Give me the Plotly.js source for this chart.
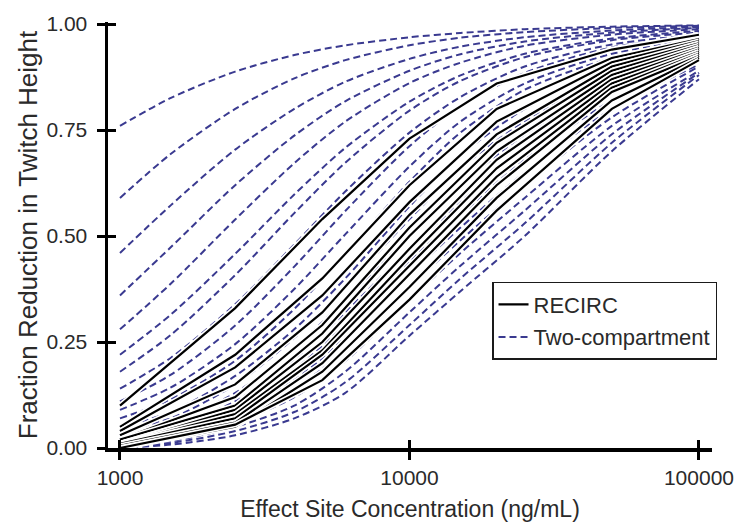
<!DOCTYPE html>
<html>
<head>
<meta charset="utf-8">
<script src="https://cdn.plot.ly/plotly-3.0.1.min.js"></script>
<style>html,body{margin:0;padding:0;background:#fff;}#chart{width:740px;height:526px;}</style>
</head>
<body>
<div id="chart"></div>
<script>
// Concentrations (ng/mL)
const concRecirc = [1000, 2500, 5000, 10000, 20000, 50000, 100000];
const concTwoComp = [1000, 1500, 2500, 4000, 6000, 10000, 15000, 25000, 50000, 100000];

// RECIRC model curves (fraction reduction in twitch height)
const recirc01 = [0.10, 0.33, 0.54, 0.73, 0.86, 0.94, 0.975];
const recirc02 = [0.05, 0.22, 0.40, 0.62, 0.80, 0.92, 0.965];
const recirc03 = [0.04, 0.19, 0.36, 0.58, 0.77, 0.91, 0.96];
const recirc04 = [0.03, 0.15, 0.32, 0.55, 0.74, 0.90, 0.955];
const recirc05 = [0.02, 0.12, 0.29, 0.52, 0.72, 0.89, 0.95];
const recirc06 = [0.02, 0.10, 0.27, 0.50, 0.70, 0.88, 0.945];
const recirc07 = [0.01, 0.09, 0.25, 0.47, 0.68, 0.87, 0.94];
const recirc08 = [0.01, 0.08, 0.23, 0.45, 0.66, 0.86, 0.935];
const recirc09 = [0.01, 0.07, 0.22, 0.43, 0.64, 0.85, 0.93];
const recirc10 = [0.005, 0.06, 0.20, 0.41, 0.62, 0.84, 0.925];
const recirc11 = [0.0, 0.05, 0.18, 0.38, 0.59, 0.82, 0.92];
const recirc12 = [0.0, 0.055, 0.16, 0.35, 0.56, 0.80, 0.915];

// Two-compartment model curves
const twoComp01 = [0.76, 0.826, 0.888, 0.927, 0.95, 0.969, 0.979, 0.988, 0.994, 0.997];
const twoComp02 = [0.59, 0.694, 0.80, 0.872, 0.915, 0.95, 0.968, 0.981, 0.991, 0.996];
const twoComp03 = [0.46, 0.573, 0.704, 0.80, 0.864, 0.918, 0.947, 0.969, 0.985, 0.993];
const twoComp04 = [0.36, 0.474, 0.62, 0.737, 0.818, 0.89, 0.929, 0.959, 0.98, 0.991];
const twoComp05 = [0.28, 0.388, 0.539, 0.672, 0.77, 0.861, 0.909, 0.949, 0.975, 0.988];
const twoComp06 = [0.22, 0.315, 0.458, 0.598, 0.708, 0.817, 0.879, 0.93, 0.966, 0.984];
const twoComp07 = [0.18, 0.267, 0.408, 0.554, 0.673, 0.796, 0.866, 0.922, 0.962, 0.98];
const twoComp08 = [0.14, 0.213, 0.339, 0.48, 0.605, 0.744, 0.828, 0.90, 0.952, 0.975];
const twoComp09 = [0.11, 0.173, 0.289, 0.428, 0.559, 0.712, 0.807, 0.885, 0.945, 0.97];
const twoComp10 = [0.09, 0.143, 0.245, 0.375, 0.504, 0.664, 0.77, 0.86, 0.93, 0.965];
const twoComp11 = [0.07, 0.115, 0.206, 0.328, 0.458, 0.628, 0.744, 0.845, 0.92, 0.96];
const twoComp12 = [0.05, 0.085, 0.17, 0.28, 0.40, 0.57, 0.69, 0.80, 0.90, 0.955];
const twoComp13 = [0.04, 0.07, 0.15, 0.26, 0.38, 0.54, 0.66, 0.77, 0.88, 0.94];
const twoComp14 = [0.03, 0.06, 0.13, 0.235, 0.35, 0.50, 0.62, 0.74, 0.86, 0.93];
const twoComp15 = [0.02, 0.05, 0.11, 0.21, 0.32, 0.47, 0.58, 0.71, 0.84, 0.925];
const twoComp16 = [0.015, 0.04, 0.095, 0.185, 0.29, 0.44, 0.55, 0.68, 0.82, 0.915];
const twoComp17 = [0.01, 0.03, 0.08, 0.16, 0.26, 0.41, 0.52, 0.65, 0.80, 0.905];
const twoComp18 = [0.008, 0.025, 0.07, 0.14, 0.23, 0.38, 0.49, 0.62, 0.78, 0.90];
const twoComp19 = [0.006, 0.02, 0.06, 0.12, 0.205, 0.35, 0.46, 0.59, 0.76, 0.89];
const twoComp20 = [0.004, 0.016, 0.05, 0.10, 0.18, 0.32, 0.43, 0.56, 0.74, 0.885];
const twoComp21 = [0.002, 0.012, 0.04, 0.085, 0.155, 0.29, 0.40, 0.53, 0.72, 0.88];
const twoComp22 = [0.0, 0.008, 0.03, 0.07, 0.13, 0.265, 0.37, 0.50, 0.70, 0.87];

// Axis ticks
const xTickVals = [1000, 10000, 100000];
const xTickText = ["1000", "10000", "100000"];
const yTickVals = [0, 0.25, 0.5, 0.75, 1.0];
const yTickText = ["0.00", "0.25", "0.50", "0.75", "1.00"];

const recircSeries = [recirc01, recirc02, recirc03, recirc04, recirc05, recirc06,
  recirc07, recirc08, recirc09, recirc10, recirc11, recirc12];
const twoCompSeries = [twoComp01, twoComp02, twoComp03, twoComp04, twoComp05, twoComp06,
  twoComp07, twoComp08, twoComp09, twoComp10, twoComp11, twoComp12, twoComp13, twoComp14,
  twoComp15, twoComp16, twoComp17, twoComp18, twoComp19, twoComp20, twoComp21, twoComp22];

const DASH_COLOR = '#3a3a90';
const traces = [];

twoCompSeries.forEach((ys, i) => {
  traces.push({
    x: concTwoComp, y: ys, type: 'scatter', mode: 'lines',
    line: {color: DASH_COLOR, width: 2, dash: '7px,4px', shape: 'spline', smoothing: 0.8},
    name: 'Two-compartment', legendgroup: 'b', legendrank: 2,
    showlegend: i === 0, hoverinfo: 'skip'
  });
});

recircSeries.forEach((ys, i) => {
  traces.push({
    x: concRecirc, y: ys, type: 'scatter', mode: 'lines',
    line: {color: '#ffffff', width: 5.5},
    showlegend: false, hoverinfo: 'skip'
  });
  traces.push({
    x: concRecirc, y: ys, type: 'scatter', mode: 'lines',
    line: {color: '#000000', width: 2.2},
    name: 'RECIRC', legendgroup: 'a', legendrank: 1,
    showlegend: i === 0, hoverinfo: 'skip'
  });
});

// empty trace so the overlay axes (inner half of the crossing ticks) are drawn
traces.push({x: [], y: [], xaxis: 'x2', yaxis: 'y2', type: 'scatter', mode: 'lines', showlegend: false});

const FONT = '"Liberation Sans", Arial, Helvetica, sans-serif';
const xRange = [2.9586, 5.045];
const yRange = [0, 1.005];

const layout = {
  width: 740, height: 526,
  margin: {l: 108, r: 28, t: 22, b: 78},
  paper_bgcolor: '#ffffff', plot_bgcolor: '#ffffff',
  font: {family: FONT, size: 21, color: '#2a2a2a'},
  showlegend: true,
  legend: {
    x: 0.6358, y: 0.3897, xanchor: 'left', yanchor: 'top',
    bgcolor: '#ffffff', bordercolor: '#1a1a1a', borderwidth: 1.5,
    font: {family: FONT, size: 22, color: '#2a2a2a'},
    traceorder: 'grouped', tracegroupgap: 1
  },
  xaxis: {
    type: 'log', range: xRange,
    tickvals: xTickVals, ticktext: xTickText,
    ticks: 'outside', ticklen: 8, tickwidth: 3, tickcolor: '#000',
    showline: true, linecolor: '#000', linewidth: 3.5,
    showgrid: false, zeroline: false,
    ticklabelstandoff: 0,
    tickfont: {family: FONT, size: 21, color: '#2a2a2a'},
    title: {text: 'Effect Site Concentration (ng/mL)', standoff: 14,
            font: {family: FONT, size: 23, color: '#2a2a2a'}}
  },
  yaxis: {
    range: yRange,
    tickvals: yTickVals, ticktext: yTickText,
    ticks: 'outside', ticklen: 8, tickwidth: 3, tickcolor: '#000',
    showline: true, linecolor: '#000', linewidth: 3.5,
    showgrid: false, zeroline: false,
    ticklabelstandoff: 5,
    tickfont: {family: FONT, size: 21, color: '#2a2a2a'},
    title: {text: 'Fraction Reduction in Twitch Height', standoff: 2,
            font: {family: FONT, size: 26, color: '#2a2a2a'}}
  },
  xaxis2: {
    type: 'log', range: xRange, overlaying: 'x', anchor: 'y', side: 'bottom',
    tickvals: xTickVals, ticks: 'inside', ticklen: 8, tickwidth: 3, tickcolor: '#000',
    showticklabels: false, showgrid: false, zeroline: false, showline: false
  },
  yaxis2: {
    range: yRange, overlaying: 'y', anchor: 'x', side: 'left',
    tickvals: yTickVals, ticks: 'inside', ticklen: 8, tickwidth: 3, tickcolor: '#000',
    showticklabels: false, showgrid: false, zeroline: false, showline: false
  }
};

Plotly.newPlot('chart', traces, layout, {displayModeBar: false, staticPlot: true});
</script>
</body>
</html>
